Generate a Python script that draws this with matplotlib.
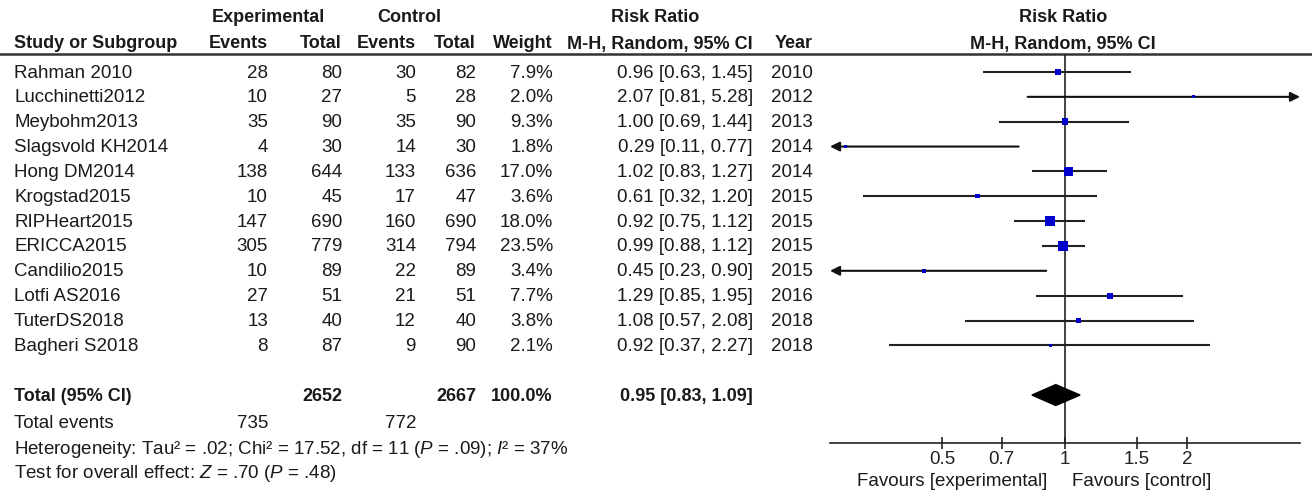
import numpy as np
import matplotlib
matplotlib.use("Agg")
import matplotlib.pyplot as plt

plt.rcParams['font.family'] = ['Liberation Sans', 'DejaVu Sans']
plt.rcParams['mathtext.fontset'] = 'custom'
plt.rcParams['mathtext.rm'] = 'Liberation Sans'
plt.rcParams['mathtext.it'] = 'Liberation Sans:italic'

# data
studies = ['Rahman 2010', 'Lucchinetti2012', 'Meybohm2013', 'Slagsvold KH2014',
           'Hong DM2014', 'Krogstad2015', 'RIPHeart2015', 'ERICCA2015',
           'Candilio2015', 'Lotfi AS2016', 'TuterDS2018', 'Bagheri S2018']
exp_events = [28, 10, 35, 4, 138, 10, 147, 305, 10, 27, 13, 8]
exp_total = [80, 27, 90, 30, 644, 45, 690, 779, 89, 51, 40, 87]
ctrl_events = [30, 5, 35, 14, 133, 17, 160, 314, 22, 21, 12, 9]
ctrl_total = [82, 28, 90, 30, 636, 47, 690, 794, 89, 51, 40, 90]
weight = [7.9, 2.0, 9.3, 1.8, 17.0, 3.6, 18.0, 23.5, 3.4, 7.7, 3.8, 2.1]
rr = [0.96, 2.07, 1.00, 0.29, 1.02, 0.61, 0.92, 0.99, 0.45, 1.29, 1.08, 0.92]
rr_lo = [0.63, 0.81, 0.69, 0.11, 0.83, 0.32, 0.75, 0.88, 0.23, 0.85, 0.57, 0.37]
rr_hi = [1.45, 5.28, 1.44, 0.77, 1.27, 1.20, 1.12, 1.12, 0.90, 1.95, 2.08, 2.27]
years = [2010, 2012, 2013, 2014, 2014, 2015, 2015, 2015, 2015, 2016, 2018, 2018]

total_rr = [0.95, 0.83, 1.09]
total_n = [2652, 2667]
total_ev = [735, 772]
ticks = [0.5, 0.7, 1, 1.5, 2]
tick_labels = ['0.5', '0.7', '1', '1.5', '2']

TXT = '#1a1a1a'
FS = 13.5      # regular text
FSB = 13.0     # bold text
xmin, xmax = 0.265, 3.78

fig = plt.figure(figsize=(13.12, 4.92), dpi=100)

# table layer in pixel coordinates
tab = fig.add_axes([0, 0, 1, 1])
tab.set_xlim(0, 1312)
tab.set_ylim(492, 0)
tab.axis('off')

def row_y(i):
    return 72 + 24.85 * i

def put(x, y, s, ha='left', bold=False):
    tab.text(x, y + 5.5, s, ha=ha, va='baseline', fontsize=FSB if bold else FS,
             color=TXT, fontweight='bold' if bold else 'normal')

# headers
put(268, 17, 'Experimental', ha='center', bold=True)
put(409, 17, 'Control', ha='center', bold=True)
put(655, 17, 'Risk Ratio', ha='center', bold=True)
put(1063, 17, 'Risk Ratio', ha='center', bold=True)
put(14, 43, 'Study or Subgroup', bold=True)
put(268, 43, 'Events', ha='right', bold=True)
put(342, 43, 'Total', ha='right', bold=True)
put(416, 43, 'Events', ha='right', bold=True)
put(476, 43, 'Total', ha='right', bold=True)
put(553, 43, 'Weight', ha='right', bold=True)
put(753, 43, 'M-H, Random, 95% CI', ha='right', bold=True)
put(813, 43, 'Year', ha='right', bold=True)
put(1063, 43, 'M-H, Random, 95% CI', ha='center', bold=True)
tab.plot([0, 1312], [54, 54], color='#333333', lw=1.8)

for i, name in enumerate(studies):
    y = row_y(i)
    put(14, y, name)
    put(268, y, str(exp_events[i]), ha='right')
    put(342, y, str(exp_total[i]), ha='right')
    put(416, y, str(ctrl_events[i]), ha='right')
    put(476, y, str(ctrl_total[i]), ha='right')
    put(553, y, f'{weight[i]:.1f}%', ha='right')
    put(753, y, f'{rr[i]:.2f} [{rr_lo[i]:.2f}, {rr_hi[i]:.2f}]', ha='right')
    put(813, y, str(years[i]), ha='right')

yt = row_y(13)
put(14, yt, 'Total (95% CI)', bold=True)
put(342, yt, str(total_n[0]), ha='right', bold=True)
put(476, yt, str(total_n[1]), ha='right', bold=True)
put(553, yt, '100.0%', ha='right', bold=True)
put(753, yt, f'{total_rr[0]:.2f} [{total_rr[1]:.2f}, {total_rr[2]:.2f}]', ha='right', bold=True)
put(14, 422, 'Total events')
put(268, 422, str(total_ev[0]), ha='right')
put(416, 422, str(total_ev[1]), ha='right')
put(14, 448, r'Heterogeneity: Tau² = .02; Chi² = 17.52, df = 11 ($\mathit{P}$ = .09); $\mathit{I}$² = 37%')
put(14, 473, r'Test for overall effect: $\mathit{Z}$ = .70 ($\mathit{P}$ = .48)')
put(1047, 481, 'Favours [experimental]', ha='right')
put(1072, 481, 'Favours [control]')

# forest plot
ax = fig.add_axes([830 / 1312, 1 - 443 / 492, 470 / 1312, (443 - 54) / 492])
ax.set_xscale('log')
ax.set_xlim(xmin, xmax)
ax.set_ylim((443 - 72) / 24.85, (54 - 72) / 24.85)
ax.patch.set_alpha(0)
for s in ['left', 'right', 'top']:
    ax.spines[s].set_visible(False)
ax.spines['bottom'].set_color('#222222')
ax.spines['bottom'].set_linewidth(1.2)
ax.set_yticks([])
ax.set_xticks(ticks)
ax.set_xticklabels(tick_labels)
ax.minorticks_off()
ax.tick_params(axis='x', direction='inout', length=9, width=1.2, pad=1,
               labelsize=FS, colors='#222222')
ax.axvline(1, color='#222222', lw=1.2, zorder=1)

rows = np.arange(len(studies))
for i in rows:
    lo, hi = rr_lo[i], rr_hi[i]
    if lo < xmin:
        ax.annotate('', xy=(xmin, i), xytext=(hi, i),
                    arrowprops=dict(arrowstyle='-|>', color='#111111', lw=1.5,
                                    mutation_scale=14, shrinkA=0, shrinkB=0))
    elif hi > xmax:
        ax.annotate('', xy=(xmax, i), xytext=(lo, i),
                    arrowprops=dict(arrowstyle='-|>', color='#111111', lw=1.5,
                                    mutation_scale=14, shrinkA=0, shrinkB=0))
    else:
        ax.hlines(i, lo, hi, color='#222222', lw=1.5, zorder=2)

ax.scatter(rr, rows, marker='s', s=2.5 * np.array(weight), color='#0000cc',
           linewidths=0, zorder=3)

ax.fill([total_rr[1], total_rr[0], total_rr[2], total_rr[0]],
        [13, 13 - 0.42, 13, 13 + 0.42], color='black', zorder=3)

fig.savefig('out.png', dpi=100)
